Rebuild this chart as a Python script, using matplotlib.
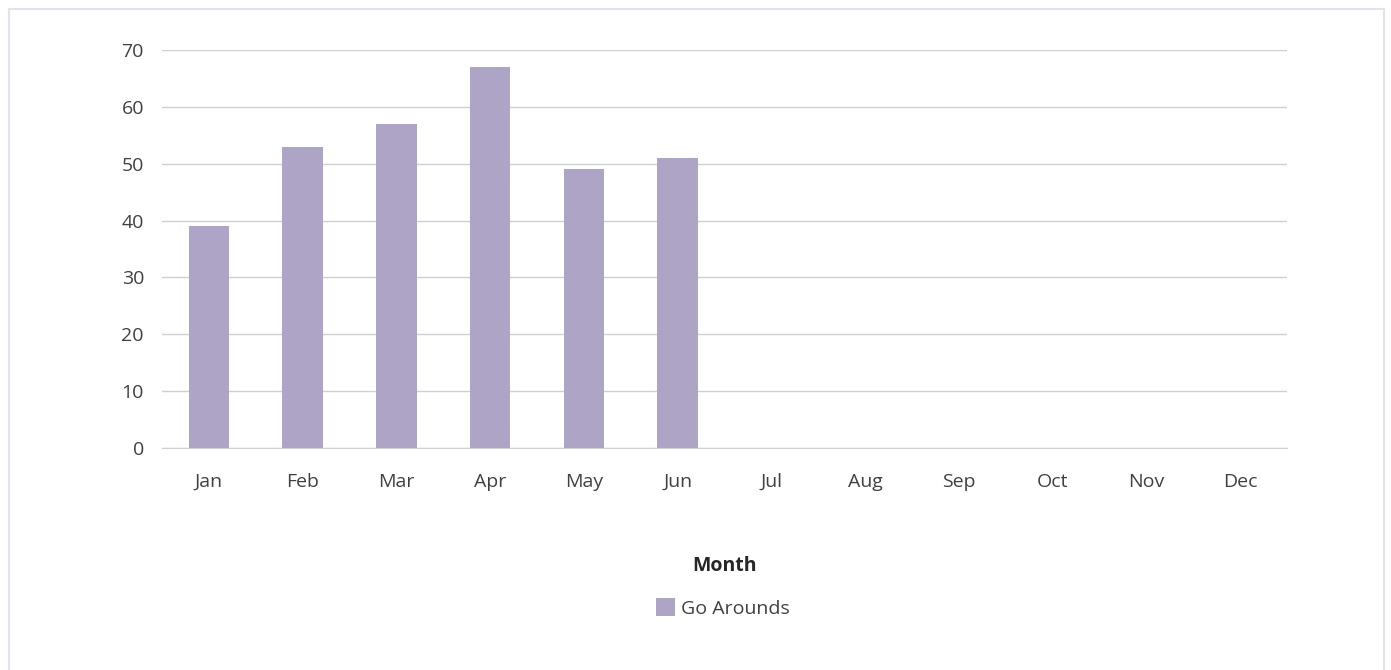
import matplotlib.pyplot as plt
import numpy as np
from matplotlib.patches import Rectangle

months = ["Jan", "Feb", "Mar", "Apr", "May", "Jun",
          "Jul", "Aug", "Sep", "Oct", "Nov", "Dec"]
go_arounds = [39, 53, 57, 67, 49, 51, 0, 0, 0, 0, 0, 0]
yticks = [0, 10, 20, 30, 40, 50, 60, 70]

plt.rcParams['font.family'] = ['Open Sans', 'DejaVu Sans']
fs = 14

fig = plt.figure(figsize=(13.91, 6.70), dpi=100)
fig.patches.append(Rectangle((9 / 1391, -0.05), 1375 / 1391, 0.05 + 661 / 670,
                             transform=fig.transFigure, fill=False,
                             edgecolor="#e4e2ef", linewidth=1.5))

ax = fig.add_axes([162 / 1391, 1 - 448 / 670, 1125 / 1391, 398 / 670])
x = np.arange(len(months))
shown = [v if v > 0 else np.nan for v in go_arounds]
ax.bar(x, shown, width=0.43, color="#aea4c5", label="Go Arounds", zorder=3)

ax.set_xlim(-0.5, len(months) - 0.5)
ax.set_ylim(0, 70)
ax.set_yticks(yticks)
ax.set_xticks(x)
ax.set_xticklabels(months)
ax.grid(axis="y", color="#d0d0d0", linewidth=1, zorder=0)
for s in ["top", "right", "left"]:
    ax.spines[s].set_visible(False)
ax.spines["bottom"].set_color("#d0d0d0")
ax.tick_params(axis="both", length=0, labelsize=fs, colors="#404040")
ax.tick_params(axis="x", pad=18)
ax.tick_params(axis="y", pad=13)

# axis title sits well below the tick labels, centred on the plot area
ax.text(0.5, 1 - 566 / 670, "Month", transform=ax.get_xaxis_transform().__class__(ax.transAxes, fig.transFigure),
        ha="center", va="center", fontsize=fs, fontweight="bold", color="#262626")

fig.legend(loc="center", bbox_to_anchor=(723 / 1391, 1 - 608 / 670), frameon=False,
           fontsize=fs, handlelength=1.0, handleheight=1.0, handletextpad=0.3,
           labelcolor="#404040")

fig.savefig("out.png", dpi=100)
